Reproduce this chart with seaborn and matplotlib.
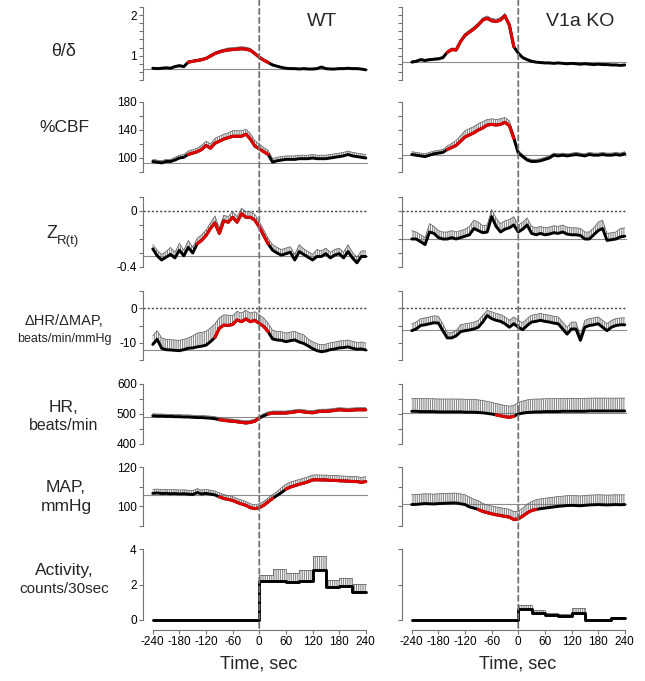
import numpy as np
import matplotlib
matplotlib.use("Agg")
import matplotlib.pyplot as plt
from matplotlib.patches import ConnectionPatch
import seaborn as sns

# time axis, sec (one sample every 10 s)
time = list(range(-240, 241, 10))

# ---------------- WT ----------------
wt_theta = [0.69, 0.68, 0.69, 0.70, 0.69, 0.73, 0.75, 0.73, 0.84, 0.86,
            0.88, 0.90, 0.93, 0.99, 1.05, 1.09, 1.12, 1.14, 1.15, 1.16,
            1.17, 1.16, 1.13, 1.05, 0.96, 0.89, 0.83, 0.77, 0.74, 0.71,
            0.69, 0.68, 0.68, 0.67, 0.68, 0.67, 0.67, 0.68, 0.72, 0.68,
            0.67, 0.67, 0.68, 0.68, 0.69, 0.68, 0.68, 0.67, 0.65]
wt_theta_sem = [0.02, 0.02, 0.02, 0.02, 0.02, 0.03, 0.03, 0.03, 0.03, 0.03,
                0.03, 0.03, 0.03, 0.04, 0.04, 0.04, 0.04, 0.05, 0.05, 0.05,
                0.05, 0.05, 0.05, 0.04, 0.04, 0.03, 0.03, 0.03, 0.02, 0.02,
                0.02, 0.02, 0.02, 0.02, 0.02, 0.02, 0.02, 0.02, 0.02, 0.02,
                0.02, 0.02, 0.02, 0.02, 0.02, 0.02, 0.02, 0.02, 0.02]

wt_cbf = [95, 94, 93, 95, 95, 97, 100, 101, 105, 107,
          109, 112, 118, 114, 121, 124, 127, 129, 131, 131,
          131, 134, 127, 117, 113, 109, 105, 94, 96, 97,
          98, 98, 98, 99, 99, 99, 100, 99, 99, 99,
          100, 101, 102, 103, 105, 103, 102, 101, 100]
wt_cbf_sem = [3, 3, 3, 3, 3, 4, 4, 4, 5, 5,
              5, 6, 6, 6, 7, 7, 7, 7, 8, 8,
              8, 7, 8, 8, 7, 6, 6, 5, 5, 5,
              5, 5, 5, 5, 5, 5, 5, 5, 5, 5,
              5, 5, 5, 5, 5, 5, 5, 5, 5]

wt_z = [-0.27, -0.32, -0.35, -0.33, -0.31, -0.335, -0.28, -0.32, -0.26, -0.30,
        -0.235, -0.21, -0.175, -0.125, -0.085, -0.16, -0.07, -0.08, -0.045, -0.08,
        -0.02, -0.045, -0.045, -0.065, -0.115, -0.175, -0.235, -0.28, -0.30, -0.315,
        -0.305, -0.295, -0.35, -0.29, -0.31, -0.33, -0.35, -0.325, -0.325, -0.305,
        -0.335, -0.315, -0.305, -0.335, -0.29, -0.335, -0.37, -0.325, -0.325]
wt_z_sem = [0.03, 0.04, 0.04, 0.04, 0.05, 0.04, 0.05, 0.04, 0.05, 0.04,
            0.04, 0.04, 0.04, 0.04, 0.05, 0.04, 0.04, 0.04, 0.04, 0.04,
            0.04, 0.04, 0.04, 0.04, 0.04, 0.04, 0.04, 0.04, 0.04, 0.04,
            0.04, 0.04, 0.04, 0.05, 0.04, 0.04, 0.04, 0.05, 0.04, 0.04,
            0.04, 0.04, 0.04, 0.04, 0.05, 0.04, 0.04, 0.04, 0.04]

wt_hrmap = [-10.5, -9.0, -11.6, -12.0, -12.1, -12.2, -12.3, -12.0, -11.6, -11.5,
            -11.2, -11.0, -10.7, -9.7, -8.5, -5.8, -4.9, -5.0, -4.7, -3.4,
            -3.9, -3.1, -3.9, -3.5, -4.4, -5.3, -6.8, -8.9, -9.2, -9.3,
            -9.7, -9.4, -9.2, -9.8, -10.2, -10.9, -11.7, -12.3, -12.6, -12.4,
            -12.0, -11.8, -11.5, -11.4, -11.2, -11.6, -11.9, -11.8, -12.1]
wt_hrmap_sem = [2.5, 2.5, 3, 3, 3, 3, 3, 3, 3, 3.5,
                4, 4, 4, 4, 4, 3, 3, 3, 2.5, 2.5,
                2.5, 2.5, 2.5, 2.5, 2.5, 2.5, 2.5, 2.5, 2.5, 2.5,
                2.5, 2.5, 2.5, 2.5, 2.5, 2, 2, 2, 2, 2,
                2, 2, 2, 2, 2, 2, 2, 2, 2]

wt_hr = [494, 493, 493, 492, 492, 491, 491, 490, 490, 489,
         488, 488, 487, 486, 484, 481, 479, 477, 476, 474,
         472, 470, 472, 476, 486, 494, 500, 503, 503, 503,
         503, 505, 507, 509, 507, 505, 504, 507, 509, 509,
         510, 512, 514, 513, 512, 513, 514, 514, 514]
wt_hr_sem = [7, 7, 7, 7, 7, 7, 7, 7, 7, 7,
             7, 7, 7, 7, 7, 7, 7, 7, 7, 7,
             7, 7, 7, 7, 7, 7, 7, 7, 7, 7,
             7, 7, 7, 7, 7, 7, 7, 7, 7, 7,
             7, 7, 7, 7, 7, 7, 7, 7, 7]

wt_map = [106.6, 106.8, 106.5, 106.6, 106.4, 106.5, 106.3, 106.4, 106.2, 106.0,
          107.0, 106.3, 106.6, 106.2, 105.8, 104.8, 104.0, 103.5, 103.0, 102.0,
          101.2, 100.5, 99.3, 98.8, 99.3, 100.5, 102.3, 104.0, 105.5, 107.0,
          108.7, 109.8, 110.5, 111.2, 111.8, 112.5, 113.4, 113.5, 113.4, 113.4,
          113.2, 113.2, 113.0, 112.9, 112.8, 112.6, 112.6, 112.2, 112.6]
wt_map_sem = [2, 2, 2, 2, 2, 2, 2, 2, 2, 2,
              2, 2, 2, 2, 2, 2, 2, 2, 2, 2,
              2, 2, 2, 2, 2, 2, 2, 2, 2, 2.5,
              2.5, 2.5, 2.5, 2.5, 2.5, 2.5, 2.5, 2.5, 2.5, 2.5,
              2.5, 2.5, 2.5, 2.5, 2.5, 2.5, 2.5, 2.5, 2.5]

# ---------------- V1a KO ----------------
ko_theta = [0.84, 0.86, 0.90, 0.88, 0.90, 0.91, 0.92, 0.95, 1.08, 1.15,
            1.14, 1.35, 1.50, 1.58, 1.66, 1.76, 1.88, 1.92, 1.86, 1.84,
            1.88, 1.98, 1.75, 1.22, 1.06, 0.95, 0.90, 0.86, 0.84, 0.83,
            0.82, 0.82, 0.81, 0.82, 0.81, 0.80, 0.81, 0.80, 0.79, 0.80,
            0.79, 0.78, 0.79, 0.78, 0.78, 0.77, 0.77, 0.76, 0.77]
ko_theta_sem = [0.03, 0.03, 0.03, 0.03, 0.03, 0.03, 0.03, 0.03, 0.04, 0.04,
                0.04, 0.05, 0.05, 0.05, 0.05, 0.05, 0.05, 0.06, 0.06, 0.06,
                0.06, 0.06, 0.05, 0.04, 0.04, 0.03, 0.03, 0.03, 0.02, 0.02,
                0.02, 0.02, 0.02, 0.02, 0.02, 0.02, 0.02, 0.02, 0.02, 0.02,
                0.02, 0.02, 0.02, 0.02, 0.02, 0.02, 0.02, 0.02, 0.02]

ko_cbf = [105, 104, 103, 102, 104, 106, 107, 108, 112, 115,
          118, 124, 130, 133, 136, 140, 143, 147, 148, 147,
          148, 151, 146, 128, 107, 102, 97, 95, 95, 96,
          98, 100, 104, 103, 104, 103, 104, 105, 104, 103,
          105, 104, 104, 105, 104, 104, 105, 104, 106]
ko_cbf_sem = [4, 4, 4, 4, 4, 4, 4, 4, 5, 6,
              7, 8, 9, 9, 9, 9, 9, 8, 8, 8,
              8, 7, 7, 6, 4, 3, 3, 3, 3, 3,
              3, 3, 3, 3, 3, 3, 3, 3, 3, 3,
              3, 3, 3, 3, 3, 3, 3, 3, 3]

ko_z = [-0.20, -0.20, -0.22, -0.24, -0.15, -0.16, -0.19, -0.20, -0.20, -0.19,
        -0.20, -0.19, -0.18, -0.17, -0.125, -0.14, -0.155, -0.15, -0.04, -0.11,
        -0.15, -0.13, -0.12, -0.10, -0.15, -0.13, -0.10, -0.16, -0.17, -0.16,
        -0.17, -0.165, -0.155, -0.16, -0.15, -0.165, -0.17, -0.17, -0.175, -0.20,
        -0.20, -0.17, -0.14, -0.125, -0.21, -0.205, -0.20, -0.185, -0.18]
ko_z_sem = [0.06, 0.05, 0.05, 0.05, 0.06, 0.05, 0.05, 0.05, 0.05, 0.05,
            0.05, 0.05, 0.05, 0.06, 0.06, 0.06, 0.05, 0.05, 0.05, 0.06,
            0.06, 0.06, 0.06, 0.06, 0.05, 0.05, 0.05, 0.05, 0.05, 0.05,
            0.05, 0.05, 0.05, 0.05, 0.05, 0.05, 0.05, 0.05, 0.05, 0.05,
            0.05, 0.05, 0.06, 0.06, 0.05, 0.05, 0.05, 0.06, 0.06]

ko_hrmap = [-6.5, -6.0, -5.0, -4.8, -4.5, -4.2, -4.3, -6.5, -8.6, -8.6,
            -8.0, -6.8, -6.5, -6.3, -6.0, -5.5, -4.0, -2.1, -3.0, -3.5,
            -3.8, -4.5, -5.5, -4.5, -5.5, -6.2, -5.0, -4.0, -3.8, -3.5,
            -3.8, -4.0, -4.3, -4.5, -6.0, -7.5, -6.0, -6.0, -9.3, -5.5,
            -5.0, -4.8, -4.5, -5.5, -6.5, -5.5, -5.0, -4.8, -4.8]
ko_hrmap_sem = [2, 2, 2, 2, 2, 2, 2, 2, 1.5, 1.5,
                1.5, 2, 2, 2, 2, 2, 2, 1.5, 2, 2,
                2, 2, 2, 2, 2, 2, 2, 2, 2, 2,
                2, 2, 2, 2, 2, 2, 2, 2, 1.5, 2,
                2, 2, 2, 2, 2, 2, 2, 2, 2]

ko_hr = [509, 509, 508, 508, 508, 508, 507, 507, 507, 507,
         507, 507, 506, 506, 506, 505, 504, 502, 500, 497,
         494, 491, 489, 492, 500, 503, 505, 506, 507, 507,
         508, 508, 508, 508, 509, 509, 509, 509, 509, 509,
         510, 510, 510, 510, 510, 510, 510, 510, 510]
ko_hr_sem = [43, 43, 43, 43, 43, 43, 43, 43, 43, 43,
             43, 43, 43, 43, 43, 42, 41, 40, 39, 38,
             38, 37, 37, 37, 38, 40, 42, 43, 43, 43,
             43, 43, 43, 43, 43, 43, 43, 43, 43, 43,
             43, 43, 43, 43, 43, 43, 43, 43, 43]

ko_map = [100.9, 101.0, 101.2, 101.4, 101.3, 101.2, 101.4, 101.5, 101.6, 101.7,
          101.7, 101.3, 100.9, 99.7, 99.1, 98.4, 97.4, 96.8, 96.2, 95.7,
          95.3, 94.9, 94.5, 93.3, 93.6, 95.0, 96.6, 97.9, 98.4, 98.8,
          99.1, 99.4, 99.7, 100.0, 100.2, 100.4, 100.5, 100.4, 100.3, 100.5,
          100.7, 100.8, 100.9, 100.8, 100.7, 100.8, 100.9, 100.8, 100.9]
ko_map_sem = [5, 5, 5, 5, 5, 5, 5, 5, 5, 5,
              5, 5, 5, 5, 4.5, 4.5, 4, 4, 4, 4,
              4, 4, 4, 4, 4, 4, 4.5, 4.5, 5, 5,
              5, 5, 5, 5, 5, 5, 5, 5, 5, 5,
              5, 5, 5, 5, 5, 5, 5, 5, 5]

# activity, counts per 30-s bin
act_bins = [-240, -210, -180, -150, -120, -90, -60, -30, 0, 30, 60, 90, 120, 150, 180, 210]
wt_act = [0, 0, 0, 0, 0, 0, 0, 0, 2.22, 2.22, 2.12, 2.22, 2.84, 1.86, 1.90, 1.58]
wt_act_sem = [0, 0, 0, 0, 0, 0, 0, 0, 0.33, 0.65, 0.53, 0.58, 0.78, 0.41, 0.47, 0.45]
ko_act = [0, 0, 0, 0, 0, 0, 0, 0, 0.64, 0.41, 0.30, 0.24, 0.41, 0.0, 0.0, 0.11]
ko_act_sem = [0, 0, 0, 0, 0, 0, 0, 0, 0.18, 0.13, 0.09, 0.12, 0.24, 0, 0, 0.06]

# periods significantly different from baseline (drawn red)
wt_sig = [[(-165, 25)], [(-165, 25)], [(-145, 25)], [(-100, 25)],
          [(-95, 0), (20, 240)], [(-95, 32), (55, 240)]]
ko_sig = [[(-165, -5)], [(-165, -5)], [], [], [(-58, -5)], [(-92, 40)]]

# baseline reference levels (gray lines)
wt_base = [0.67, 93, -0.32, -12, 490, 106]
ko_base = [0.84, 104, -0.20, -6.3, 502, 101]

# ---------------- style ----------------
sns.set_style("ticks")
plt.rcParams["font.family"] = ["Liberation Sans", "DejaVu Sans"]
plt.rcParams["axes.unicode_minus"] = False
plt.rcParams["hatch.linewidth"] = 0.6
plt.rcParams["hatch.color"] = "0.45"

W, H = 645, 681
fig = plt.figure(figsize=(W / 100, H / 100), dpi=100)

# row layout in pixels: top, bottom, ylim, ticks, labelled ticks
rows = [
    (7, 80, (0.4, 2.2), [0.4, 0.6, 0.8, 1.0, 1.2, 1.4, 1.6, 1.8, 2.0, 2.2], {1.0: "1", 2.0: "2"}),
    (102, 172, (80, 180), [80, 100, 120, 140, 160, 180], {100: "100", 140: "140", 180: "180"}),
    (197, 267, (-0.4, 0.1), [-0.4, -0.3, -0.2, -0.1, 0.0, 0.1], {-0.4: "-0.4", 0.0: "0"}),
    (291, 360, (-15, 5), [-15, -10, -5, 0, 5], {-10: "-10", 0: "0"}),
    (384, 444, (400, 600), [400, 450, 500, 550, 600], {400: "400", 500: "500", 600: "600"}),
    (467, 526, (90, 120), [90, 100, 110, 120], {100: "100", 120: "120"}),
    (549, 620, (0, 4), [0, 2, 4], {0: "0", 2: "2", 4: "4"}),
]
col_left = [143, 402]
col_width = 225

wt_series = [(wt_theta, wt_theta_sem), (wt_cbf, wt_cbf_sem), (wt_z, wt_z_sem),
             (wt_hrmap, wt_hrmap_sem), (wt_hr, wt_hr_sem), (wt_map, wt_map_sem)]
ko_series = [(ko_theta, ko_theta_sem), (ko_cbf, ko_cbf_sem), (ko_z, ko_z_sem),
             (ko_hrmap, ko_hrmap_sem), (ko_hr, ko_hr_sem), (ko_map, ko_map_sem)]

GRAY = "0.45"
RED = "#e00000"
HATCH = "|||||||||"


def draw_series(ax, mean, sem, sig):
    t = np.array(time)
    m = np.array(mean, dtype=float)
    s = np.array(sem, dtype=float)
    ax.fill_between(t, m, m + s, facecolor="none", edgecolor=GRAY,
                    hatch=HATCH, linewidth=0, zorder=1)
    ax.plot(t, m + s, color="0.35", lw=0.5, zorder=2)
    sns.lineplot(x=t, y=m, ax=ax, color="black", linewidth=2.1,
                 estimator=None, sort=False, zorder=3)
    for a, b in sig:
        k = (t >= a) & (t <= b)
        sns.lineplot(x=t[k], y=m[k], ax=ax, color=RED, linewidth=2.2,
                     estimator=None, sort=False, zorder=4)


def draw_activity(ax, vals, sem):
    x = np.array(act_bins + [240])
    m = np.array(vals + [vals[-1]], dtype=float)
    s = np.array(sem + [sem[-1]], dtype=float)
    ax.fill_between(x, m, m + s, step="post", facecolor="none", edgecolor=GRAY,
                    hatch=HATCH, linewidth=0, zorder=1)
    ax.step(x, m + s, where="post", color="0.35", lw=0.5, zorder=2)
    sns.lineplot(x=x, y=m, ax=ax, color="black", linewidth=2.1,
                 estimator=None, sort=False, drawstyle="steps-post",
                 zorder=3, clip_on=False)


axes = [[None] * 7 for _ in range(2)]
for c in range(2):
    for r, (top, bot, ylim, ticks, labs) in enumerate(rows):
        ax = fig.add_axes([col_left[c] / W, 1 - bot / H, col_width / W, (bot - top) / H])
        axes[c][r] = ax
        ax.set_xlim(-262, 245)
        ax.set_ylim(*ylim)
        ax.patch.set_alpha(0)
        for side in ["top", "right"]:
            ax.spines[side].set_visible(False)
        ax.spines["left"].set_color(GRAY)
        ax.spines["left"].set_linewidth(0.8)
        ax.set_yticks(ticks)
        if c == 0:
            ax.set_yticklabels([labs.get(round(v, 2), "") for v in ticks])
        else:
            ax.set_yticklabels([""] * len(ticks))
        ax.tick_params(axis="y", direction="out", length=3, width=0.8, color=GRAY,
                       labelsize=8.5, pad=1.5, labelcolor="black")
        if r < 6:
            ax.spines["bottom"].set_visible(False)
            ax.set_xticks([])
            series = wt_series if c == 0 else ko_series
            sig = wt_sig if c == 0 else ko_sig
            base = wt_base if c == 0 else ko_base
            ax.axhline(base[r], color="0.55", lw=0.8, zorder=0)
            if r in (2, 3):
                ax.axhline(0, color="0.25", lw=1.0, ls=(0, (1.5, 1.5)), zorder=0)
            draw_series(ax, series[r][0], series[r][1], sig[r])
        else:
            ax.spines["bottom"].set_position(("outward", 7))
            ax.spines["bottom"].set_bounds(-240, 240)
            ax.spines["bottom"].set_color(GRAY)
            ax.spines["bottom"].set_linewidth(0.8)
            xt = list(range(-240, 241, 60))
            ax.set_xticks(xt)
            ax.set_xticklabels([str(v) for v in xt])
            ax.tick_params(axis="x", direction="out", length=3, width=0.8, color=GRAY,
                           labelsize=8.5, pad=1.5, labelcolor="black")
            if c == 0:
                draw_activity(ax, wt_act, wt_act_sem)
            else:
                draw_activity(ax, ko_act, ko_act_sem)
        ax.set_xlabel("")
        ax.set_ylabel("")

    # dashed line at time zero through the whole column
    con = ConnectionPatch(xyA=(0, 1.1), coordsA=axes[c][0].get_xaxis_transform(),
                          xyB=(0, -0.14), coordsB=axes[c][6].get_xaxis_transform(),
                          color=GRAY, lw=1.3, linestyle=(0, (3, 2)), zorder=5)
    fig.add_artist(con)


def ftext(x, y, s, **kw):
    fig.text(x / W, 1 - y / H, s, ha=kw.pop("ha", "center"), va="center", **kw)


ftext(64, 52, "\u03b8/\u03b4", fontsize=13)
ftext(64, 128, "%CBF", fontsize=12.5)
ftext(52, 234, "Z", fontsize=13)
ftext(57, 241, "R(t)", fontsize=9.5, ha="left")
ftext(64, 321, "\u0394HR/\u0394MAP,", fontsize=10.5)
ftext(64, 339, "beats/min/mmHg", fontsize=9)
ftext(64, 407, "HR,", fontsize=12.5)
ftext(64, 425, "beats/min", fontsize=11.5)
ftext(66, 487, "MAP,", fontsize=12.5)
ftext(66, 506, "mmHg", fontsize=12.5)
ftext(64, 571, "Activity,", fontsize=12.5)
ftext(64, 589, "counts/30sec", fontsize=11)
ftext(322, 22, "WT", fontsize=14)
ftext(580, 22, "V1a KO", fontsize=14)
ftext(259, 664, "Time, sec", fontsize=13)
ftext(518, 664, "Time, sec", fontsize=13)

fig.savefig("out.png", dpi=100)
